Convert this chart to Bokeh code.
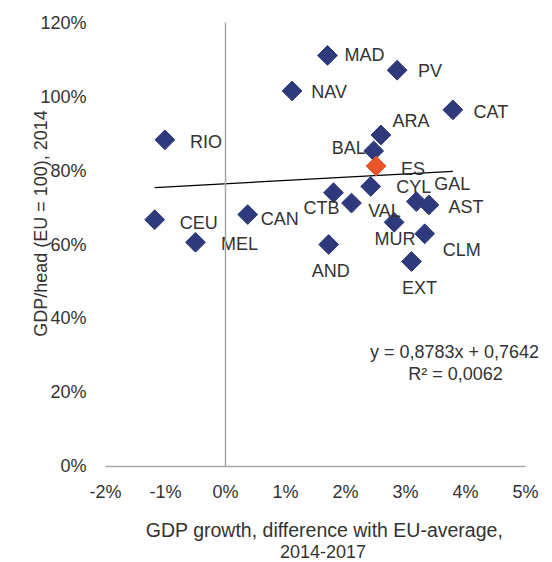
import math
from bokeh.plotting import figure
from bokeh.models import (ColumnDataSource, Label, FixedTicker, PrintfTickFormatter,
                          Range1d, LinearAxis)
from bokeh.core.properties import value
from bokeh.embed import file_html
from bokeh.resources import INLINE

# ---- data (percent) ----
regions = ["MAD", "PV", "NAV", "CAT", "ARA", "BAL", "RIO", "CEU", "MEL", "CAN",
           "CTB", "VAL", "CYL", "GAL", "AST", "MUR", "CLM", "AND", "EXT"]
growth_diff = [1.70, 2.86, 1.11, 3.79, 2.59, 2.47, -1.01, -1.18, -0.50, 0.37,
               1.80, 2.10, 2.42, 3.18, 3.39, 2.81, 3.32, 1.72, 3.10]
gdp_head = [111.1, 107.1, 101.5, 96.4, 89.6, 85.3, 88.3, 66.7, 60.6, 68.1,
            74.0, 71.2, 75.7, 71.6, 70.7, 66.0, 62.9, 60.0, 55.4]
spain_label = ["ES"]
spain_growth = [2.51]
spain_gdp = [81.2]

trend_slope = 0.8783
trend_intercept = 0.7642
r_squared = 0.0062

x_ticks = [-2, -1, 0, 1, 2, 3, 4, 5]
y_ticks = [0, 20, 40, 60, 80, 100, 120]

# ---- label placement (screen px offsets from the marker to the text centre) ----
label_dx = [37, 33, 37, 38, 30, -25, 41, 44, 44, 32, -12, 33, 43, 36, 37, 1, 37, 2, 8]
label_dy = [0, 1, 1, 2, -14, -3, 2, 3, 2, 4, 15, 8, 1, -18, 2, 17, 16, 26, 26]
es_dx = [37]
es_dy = [3]

FONT = "Liberation Sans"
TXT = "#333333"
NAVY = "#2E3A7C"
ORANGE = "#E8552A"
GRAY = "#A6A6A6"

# frame covers the whole canvas; axes are placed at fixed data locations
p = figure(width=550, height=562, output_backend="svg", toolbar_location=None,
           x_range=Range1d(-3.75, 5.4167), y_range=Range1d(-25.946, 125.946),
           min_border=0, min_border_left=0, min_border_right=0,
           min_border_top=0, min_border_bottom=0)
p.outline_line_color = None
p.grid.visible = False
p.background_fill_color = "white"
p.border_fill_color = "white"

xa = p.xaxis[0]
ya = p.yaxis[0]
xa.fixed_location = y_ticks[0]
xa.bounds = (x_ticks[0], x_ticks[-1])
ya.fixed_location = x_ticks[0]
ya.bounds = (y_ticks[0], y_ticks[-1])
xa.ticker = FixedTicker(ticks=x_ticks)
ya.ticker = FixedTicker(ticks=y_ticks)
xa.formatter = PrintfTickFormatter(format="%d%%")
ya.formatter = PrintfTickFormatter(format="%d%%")
for ax in (xa, ya):
    ax.major_tick_line_color = None
    ax.minor_tick_line_color = None
    ax.major_tick_out = 0
    ax.major_tick_in = 0
    ax.major_label_text_font = FONT
    ax.major_label_text_font_size = "18px"
    ax.major_label_text_color = TXT
xa.axis_line_color = GRAY
xa.axis_line_width = 1.5
ya.axis_line_color = None
xa.major_label_standoff = 16
ya.major_label_standoff = 19

# vertical axis line crossing at x = 0 (no labels)
zero_axis = LinearAxis(fixed_location=0, bounds=(y_ticks[0], y_ticks[-1]),
                       ticker=FixedTicker(ticks=[]), axis_line_color=GRAY,
                       axis_line_width=1.5, major_tick_line_color=None,
                       minor_tick_line_color=None)
p.add_layout(zero_axis, "left")

# trendline across data range
all_x = growth_diff + spain_growth
tx = [min(all_x), max(all_x)]
ty = [(trend_slope * (v / 100) + trend_intercept) * 100 for v in tx]
p.line(tx, ty, line_color="black", line_width=1.3)

src = ColumnDataSource(dict(x=growth_diff, y=gdp_head, name=regions, dx=label_dx, dy=label_dy))
p.scatter("x", "y", source=src, marker="square", angle=math.pi / 4, size=14,
          fill_color=NAVY, line_color=NAVY)
p.text("x", "y", text="name", source=src, x_offset="dx", y_offset="dy",
       text_font=value(FONT), text_font_size="18px", text_color=TXT,
       text_align="center", text_baseline="middle")

es_src = ColumnDataSource(dict(x=spain_growth, y=spain_gdp, name=spain_label, dx=es_dx, dy=es_dy))
p.scatter("x", "y", source=es_src, marker="square", angle=math.pi / 4, size=14,
          fill_color=ORANGE, line_color=ORANGE)
p.text("x", "y", text="name", source=es_src, x_offset="dx", y_offset="dy",
       text_font=value(FONT), text_font_size="18px", text_color=TXT,
       text_align="center", text_baseline="middle")

# equation
eq1 = "y = 0,8783x + 0,7642"
eq2 = "R² = 0,0062"
for t, xx, yy in ((eq1, 3.817, 30.89), (eq2, 3.833, 25.05)):
    p.add_layout(Label(x=xx, y=yy, text=t, text_font=FONT, text_font_size="18px",
                       text_color=TXT, text_align="center", text_baseline="middle"))

# axis titles
p.add_layout(Label(x=-3.067, y=65.68, text="GDP/head (EU = 100), 2014", angle=math.pi / 2,
                   text_font=FONT, text_font_size="18px", text_color=TXT,
                   text_align="center", text_baseline="middle"))
p.add_layout(Label(x=1.65, y=-17.1, text="GDP growth, difference with EU-average,",
                   text_font=FONT, text_font_size="19.5px", text_color=TXT,
                   text_align="center", text_baseline="middle"))
p.add_layout(Label(x=1.625, y=-22.9, text="2014-2017",
                   text_font=FONT, text_font_size="18px", text_color=TXT,
                   text_align="center", text_baseline="middle"))

open("out.html", "w").write(file_html(p, INLINE))
